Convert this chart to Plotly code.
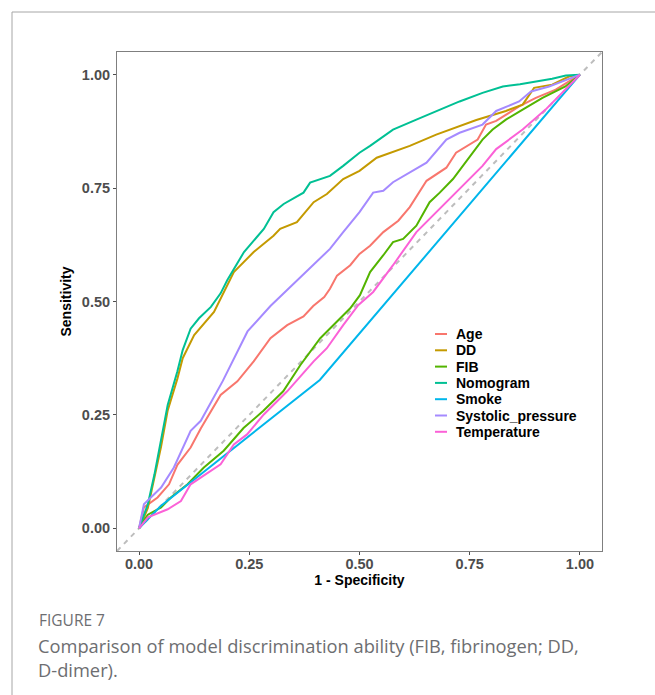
import plotly.graph_objects as go

names = ["Age", "DD", "FIB", "Nomogram", "Smoke", "Systolic_pressure", "Temperature"]
colors = ["#F8766D", "#C49A00", "#53B400", "#00C094", "#00B6EB", "#A58AFF", "#FB61D7"]

age_x = [0, 0.011, 0.042, 0.068, 0.087, 0.117, 0.14, 0.185, 0.223, 0.26, 0.298, 0.336, 0.373, 0.395, 0.42, 0.433, 0.449, 0.479, 0.5, 0.524, 0.554, 0.588, 0.614, 0.652, 0.697, 0.719, 0.768, 0.787, 0.81, 0.832, 0.862, 0.9, 0.945, 1.0]
age_y = [0, 0.046, 0.068, 0.097, 0.14, 0.178, 0.22, 0.294, 0.324, 0.368, 0.419, 0.448, 0.467, 0.49, 0.51, 0.528, 0.557, 0.58, 0.605, 0.623, 0.653, 0.678, 0.708, 0.766, 0.795, 0.828, 0.857, 0.89, 0.898, 0.912, 0.93, 0.949, 0.967, 1.0]

dd_x = [0, 0.005, 0.02, 0.035, 0.05, 0.065, 0.087, 0.099, 0.125, 0.17, 0.208, 0.215, 0.26, 0.305, 0.32, 0.358, 0.396, 0.426, 0.463, 0.5, 0.539, 0.614, 0.674, 0.765, 0.832, 0.87, 0.896, 0.937, 0.975, 1.0]
dd_y = [0, 0.01, 0.045, 0.11, 0.18, 0.26, 0.33, 0.375, 0.426, 0.477, 0.55, 0.565, 0.609, 0.645, 0.66, 0.675, 0.719, 0.737, 0.77, 0.788, 0.817, 0.843, 0.868, 0.9, 0.92, 0.934, 0.971, 0.978, 0.996, 1.0]

fib_x = [0, 0.005, 0.02, 0.05, 0.072, 0.11, 0.147, 0.192, 0.237, 0.282, 0.327, 0.366, 0.411, 0.463, 0.479, 0.501, 0.524, 0.554, 0.576, 0.599, 0.629, 0.659, 0.682, 0.712, 0.734, 0.757, 0.779, 0.802, 0.832, 0.87, 0.915, 0.967, 1.0]
fib_y = [0, 0.009, 0.03, 0.046, 0.068, 0.097, 0.134, 0.171, 0.221, 0.259, 0.302, 0.36, 0.419, 0.469, 0.485, 0.514, 0.565, 0.602, 0.631, 0.638, 0.667, 0.719, 0.74, 0.77, 0.799, 0.828, 0.857, 0.879, 0.901, 0.923, 0.949, 0.974, 1.0]

nomo_x = [0, 0.005, 0.02, 0.035, 0.05, 0.065, 0.087, 0.099, 0.117, 0.136, 0.163, 0.185, 0.2, 0.238, 0.283, 0.305, 0.328, 0.373, 0.388, 0.433, 0.463, 0.5, 0.524, 0.576, 0.629, 0.682, 0.727, 0.779, 0.825, 0.864, 0.937, 0.968, 1.0]
nomo_y = [0, 0.013, 0.053, 0.119, 0.192, 0.272, 0.346, 0.393, 0.44, 0.463, 0.488, 0.518, 0.547, 0.609, 0.66, 0.697, 0.715, 0.74, 0.762, 0.777, 0.799, 0.828, 0.843, 0.879, 0.901, 0.923, 0.941, 0.96, 0.974, 0.979, 0.991, 0.998, 1.0]

smoke_x = [0, 0.05, 0.41, 1.0]
smoke_y = [0, 0.05, 0.327, 1.0]

sys_x = [0, 0.011, 0.05, 0.079, 0.117, 0.14, 0.19, 0.246, 0.298, 0.343, 0.388, 0.433, 0.463, 0.5, 0.531, 0.554, 0.576, 0.614, 0.652, 0.697, 0.727, 0.779, 0.81, 0.862, 0.889, 0.93, 0.96, 1.0]
sys_y = [0, 0.053, 0.09, 0.134, 0.215, 0.237, 0.325, 0.434, 0.49, 0.532, 0.572, 0.616, 0.653, 0.697, 0.74, 0.744, 0.763, 0.784, 0.806, 0.857, 0.872, 0.89, 0.92, 0.941, 0.963, 0.974, 0.985, 1.0]

temp_x = [0, 0.02, 0.065, 0.095, 0.117, 0.14, 0.185, 0.215, 0.245, 0.283, 0.336, 0.396, 0.426, 0.463, 0.497, 0.531, 0.576, 0.629, 0.674, 0.727, 0.779, 0.81, 0.87, 0.922, 0.96, 1.0]
temp_y = [0, 0.024, 0.042, 0.06, 0.097, 0.112, 0.141, 0.185, 0.207, 0.251, 0.302, 0.368, 0.397, 0.448, 0.492, 0.521, 0.58, 0.653, 0.697, 0.748, 0.799, 0.836, 0.879, 0.923, 0.96, 1.0]

series_x = [age_x, dd_x, fib_x, nomo_x, smoke_x, sys_x, temp_x]
series_y = [age_y, dd_y, fib_y, nomo_y, smoke_y, sys_y, temp_y]

tick_vals = [0, 0.25, 0.5, 0.75, 1.0]
tick_text = ["0.00", "0.25", "0.50", "0.75", "1.00"]
ref_line = [-0.05, 1.05]

caption_label = "FIGURE 7"
caption_text = "Comparison of model discrimination ability (FIB, fibrinogen; DD,<br>D-dimer)."

fig = go.Figure()

fig.add_trace(go.Scatter(x=ref_line, y=ref_line, mode="lines",
                         line=dict(color="#bdbdbd", width=2, dash="5px,5px"),
                         showlegend=False, hoverinfo="skip"))

for nm, c, xs, ys in zip(names, colors, series_x, series_y):
    fig.add_trace(go.Scatter(x=xs, y=ys, mode="lines", name=nm,
                             line=dict(color=c, width=2), showlegend=False))

W, H = 655, 695
L, R, T, B = 117, 53, 52, 144
pw, ph = W - L - R, H - T - B

def px(xp):
    return (xp - L) / pw

def py(yp):
    return (H - B - yp) / ph

bold = dict(family="Liberation Sans, Arial, sans-serif", weight="bold")

annotations = []
shapes = []
# manual legend
for i, (nm, c) in enumerate(zip(names, colors)):
    yy = 334 + i * 16.3
    shapes.append(dict(type="line", xref="paper", yref="paper",
                       x0=px(435), x1=px(447), y0=py(yy), y1=py(yy),
                       line=dict(color=c, width=2)))
    annotations.append(dict(text=nm, xref="paper", yref="paper", x=px(454), y=py(yy),
                            xanchor="left", yanchor="middle", showarrow=False,
                            font=dict(size=14, color="black", **bold)))

# page frame lines
shapes.append(dict(type="line", xref="paper", yref="paper", x0=px(12), x1=px(655),
                   y0=py(12), y1=py(12), line=dict(color="#a6a6a6", width=1)))
shapes.append(dict(type="line", xref="paper", yref="paper", x0=px(12), x1=px(12),
                   y0=py(12), y1=py(695), line=dict(color="#a6a6a6", width=1)))

annotations.append(dict(text=caption_label, xref="paper", yref="paper", x=px(37), y=py(620),
                        xanchor="left", yanchor="middle", showarrow=False,
                        font=dict(family="Open Sans, sans-serif", size=15.5, color="#6d6e71")))
annotations.append(dict(text=caption_text, xref="paper", yref="paper", x=px(36), y=py(631),
                        xanchor="left", yanchor="top", showarrow=False, align="left",
                        font=dict(family="Open Sans, sans-serif", size=18.3, color="#6d6e71")))

axis_common = dict(range=[-0.05, 1.05], tickvals=tick_vals, ticktext=tick_text,
                   showgrid=False, zeroline=False, showline=True, mirror=True,
                   linecolor="#7f7f7f", linewidth=1, ticks="outside", ticklen=3,
                   tickcolor="#4d4d4d", tickwidth=1,
                   tickfont=dict(size=14.5, color="#4d4d4d", **bold))

fig.update_layout(
    width=W, height=H,
    margin=dict(l=L, r=R, t=T, b=B),
    paper_bgcolor="white", plot_bgcolor="white",
    xaxis=dict(title=dict(text="1 - Specificity", standoff=0,
                          font=dict(size=14, color="black", **bold)),
               ticklabelstandoff=-3, **axis_common),
    yaxis=dict(title=dict(text="Sensitivity", standoff=6,
                          font=dict(size=14, color="black", **bold)), **axis_common),
    shapes=shapes, annotations=annotations,
)

fig.write_html("out.html")
